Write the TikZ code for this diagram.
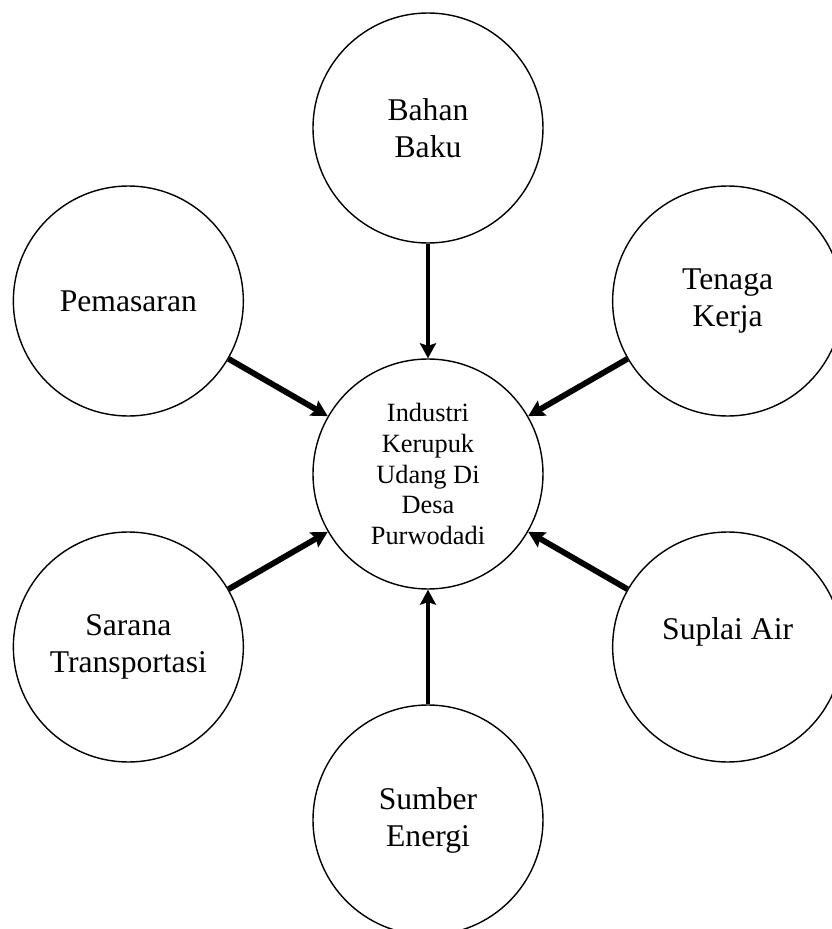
\documentclass[tikz,border=0pt]{standalone}
\usepackage{fontspec}
\setmainfont{Liberation Serif}
\usetikzlibrary{arrows.meta,positioning}

\begin{document}
\begin{tikzpicture}[
    factor/.style={circle,draw,line width=0.8pt,minimum size=4.6cm,inner sep=0pt,align=center,
      font=\fontsize{18}{21}\selectfont},
    hub/.style={circle,draw,line width=0.8pt,minimum size=4.6cm,inner sep=0pt,align=center,
      font=\fontsize{15}{17.6}\selectfont},
    link/.style={line width=2.3pt,-{Stealth[length=0.3cm,width=0.32cm,inset=0.05cm]}},
    linkthick/.style={line width=3.3pt,-{Stealth[length=0.32cm,width=0.34cm,inset=0.05cm]}}
  ]
    \useasboundingbox (-8.56,-9.10) rectangle (8.08,9.48);

    % Centre
    \node[hub] (industri) at (0,0) {Industri\\Kerupuk\\Udang Di\\Desa\\Purwodadi};

    % Factors round the centre
    \node[factor] (bahan) at (90:6.92) {Bahan\\Baku};
    \node[factor] (tenaga) at (30:6.92) {Tenaga\\Kerja};
    \node[factor] (air) at (-30:6.92) {Suplai Air\\\mbox{}};
    \node[factor] (energi) at (-90:6.92) {Sumber\\Energi};
    \node[factor] (sarana) at (-150:6.92) {Sarana\\Transportasi};
    \node[factor] (pemasaran) at (150:6.92) {Pemasaran};

    % Arrows into the centre
    \draw[link] (bahan) -- (industri);
    \draw[link] (energi) -- (industri);
    \draw[linkthick] (tenaga) -- (industri);
    \draw[linkthick] (air) -- (industri);
    \draw[linkthick] (sarana) -- (industri);
    \draw[linkthick] (pemasaran) -- (industri);

  \end{tikzpicture}
\end{document}
